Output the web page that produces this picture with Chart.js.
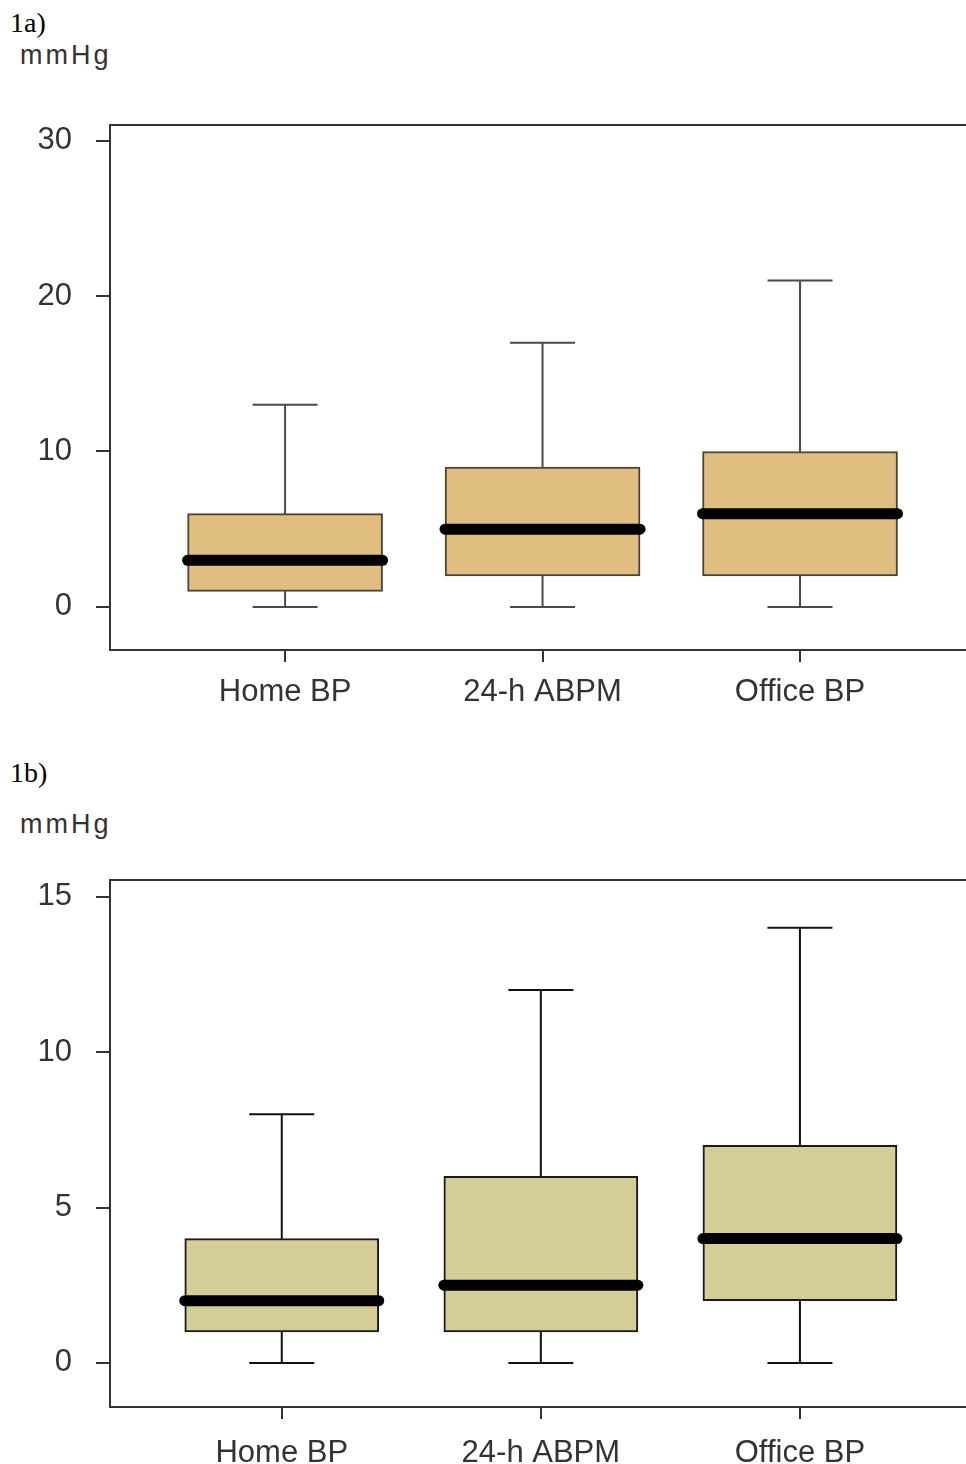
<!DOCTYPE html>
<html>
<head>
<meta charset="utf-8">
<script src="https://cdn.jsdelivr.net/npm/chart.js@4.4.1/dist/chart.umd.min.js"></script>
<style>
  body { margin: 0; width: 966px; height: 1464px; overflow: hidden; background: #fff; position: relative; }
  .panel { position: absolute; left: 10px; font-family: "Liberation Serif", "Times New Roman", serif; font-size: 28px; color: #000; }
  .unit { position: absolute; left: 20px; font-family: "Liberation Sans", Arial, sans-serif; font-size: 27px; letter-spacing: 3px; color: #333; }
  canvas { position: absolute; left: 0; }
</style>
</head>
<body>
<div class="panel" style="top:7px;">1a)</div>
<div class="unit" style="top:40px;">mmHg</div>
<canvas id="chartA" width="980" height="630" style="top:100px;"></canvas>

<div class="panel" style="top:757px;">1b)</div>
<div class="unit" style="top:809px;">mmHg</div>
<canvas id="chartB" width="980" height="640" style="top:855px;"></canvas>

<script>
// Categorias (eje x)
const categories = ['Home BP', '24-h ABPM', 'Office BP'];

// Figura 1a: cuartiles y bigotes
const minA = [0, 0, 0];
const q1A = [1, 2, 2];
const medA = [3, 5, 6];
const q3A = [6, 9, 10];
const maxA = [13, 17, 21];
const ticksA = [0, 10, 20, 30];

// Figura 1b
const minB = [0, 0, 0];
const q1B = [1, 1, 2];
const medB = [2, 2.5, 4];
const q3B = [4, 6, 7];
const maxB = [8, 12, 14];
const ticksB = [0, 5, 10, 15];

// Bigotes, medianas y marco del area del grafico
const boxExtras = {
    id: 'boxExtras',
    beforeDatasetsDraw(chart, args, opts) {
        const { ctx, chartArea, scales: { x, y } } = chart;
        ctx.save();
        // marco
        ctx.strokeStyle = '#333';
        ctx.lineWidth = 2;
        ctx.strokeRect(chartArea.left, chartArea.top, chartArea.right - chartArea.left, chartArea.bottom - chartArea.top);
        // bigotes
        ctx.strokeStyle = opts.whiskerColor;
        ctx.lineWidth = 2;
        opts.min.forEach((v, i) => {
            const px = x.getPixelForValue(i + 1);
            const yMin = y.getPixelForValue(v);
            const yMax = y.getPixelForValue(opts.max[i]);
            ctx.beginPath();
            ctx.moveTo(px, yMin);
            ctx.lineTo(px, yMax);
            ctx.moveTo(px - opts.capWidth / 2, yMin);
            ctx.lineTo(px + opts.capWidth / 2, yMin);
            ctx.moveTo(px - opts.capWidth / 2, yMax);
            ctx.lineTo(px + opts.capWidth / 2, yMax);
            ctx.stroke();
        });
        ctx.restore();
    },
    afterDatasetsDraw(chart, args, opts) {
        const { ctx, scales: { x, y } } = chart;
        ctx.save();
        ctx.strokeStyle = '#000';
        ctx.lineWidth = 11;
        ctx.lineCap = 'round';
        opts.med.forEach((v, i) => {
            const px = x.getPixelForValue(i + 1);
            const py = y.getPixelForValue(v);
            ctx.beginPath();
            ctx.moveTo(px - opts.boxWidth / 2, py);
            ctx.lineTo(px + opts.boxWidth / 2, py);
            ctx.stroke();
        });
        ctx.restore();
    }
};

function makeChart(id, s) {
    const ctx = document.getElementById(id).getContext('2d');
    return new Chart(ctx, {
        type: 'bar',
        data: {
            datasets: [{
                data: categories.map((c, i) => ({ x: i + 1, y: [s.q1[i], s.q3[i]] })),
                backgroundColor: s.fill,
                borderColor: s.border,
                borderWidth: 2,
                borderSkipped: false,
                barThickness: s.boxWidth
            }]
        },
        options: {
            responsive: false,
            animation: false,
            layout: { padding: { top: 25, left: 0, right: 0, bottom: 0 } },
            scales: {
                x: {
                    type: 'linear',
                    offset: false,
                    min: s.xMin,
                    max: s.xMax,
                    afterBuildTicks: sc => { sc.ticks = categories.map((c, i) => ({ value: i + 1 })); },
                    afterFit: sc => {
                        sc.height = s.xAxisHeight;
                        sc.paddingLeft = 0;
                        sc.paddingRight = 0;
                    },
                    border: { display: false },
                    grid: { offset: false, drawOnChartArea: false, tickLength: 12, tickColor: '#333', lineWidth: 2 },
                    ticks: {
                        callback: v => categories[v - 1],
                        padding: s.xPad,
                        color: '#333',
                        maxRotation: 0,
                        font: { family: 'Liberation Sans, Arial, sans-serif', size: 31 }
                    }
                },
                y: {
                    min: s.yMin,
                    max: s.yMax,
                    afterBuildTicks: sc => { sc.ticks = s.ticks.map(v => ({ value: v })); },
                    afterFit: sc => {
                        sc.width = 110;
                        sc.paddingTop = 0;
                        sc.paddingBottom = 0;
                    },
                    border: { display: false },
                    grid: { drawOnChartArea: false, tickLength: 14, tickColor: '#333', lineWidth: 2 },
                    ticks: {
                        padding: 24,
                        color: '#333',
                        font: { family: 'Liberation Sans, Arial, sans-serif', size: 31 }
                    }
                }
            },
            plugins: {
                legend: { display: false },
                tooltip: { enabled: false },
                boxExtras: {
                    min: s.min, med: s.med, max: s.max,
                    whiskerColor: s.whisker, capWidth: 65, boxWidth: s.boxWidth
                }
            }
        },
        plugins: [boxExtras]
    });
}

makeChart('chartA', {
    q1: q1A, q3: q3A, min: minA, med: medA, max: maxA, ticks: ticksA,
    yMin: -2.77, yMax: 31.0, xMin: 0.32, xMax: 3.699,
    xAxisHeight: 80, xPad: 12, boxWidth: 195,
    fill: '#dfbe80', border: '#4e4433', whisker: '#4a4a4a'
});

makeChart('chartB', {
    q1: q1B, q3: q3B, min: minB, med: medB, max: maxB, ticks: ticksB,
    yMin: -1.42, yMax: 15.54, xMin: 0.337, xMax: 3.695,
    xAxisHeight: 88, xPad: 16, boxWidth: 194,
    fill: '#d4cd98', border: '#1a1a1a', whisker: '#111'
});
</script>
</body>
</html>
